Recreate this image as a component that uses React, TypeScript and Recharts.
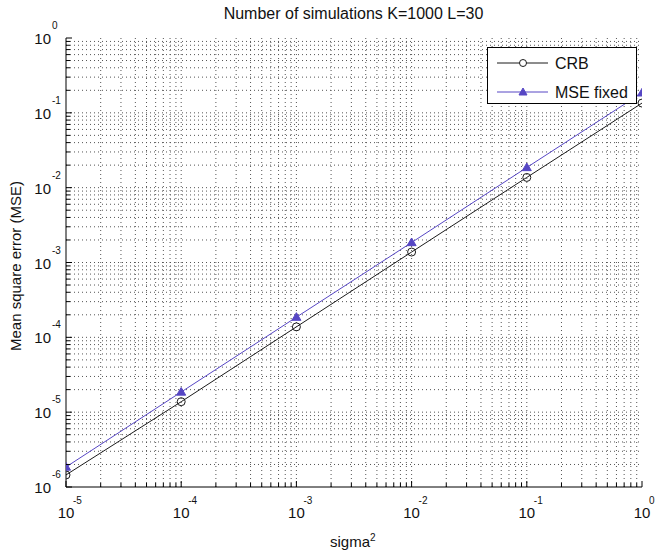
import React from 'react';
import { LineChart, Line, XAxis, YAxis, ReferenceLine, Legend } from 'recharts';

// values (log-log)
const sigma2 = [1e-5, 1e-4, 1e-3, 1e-2, 1e-1, 1];
const crb = [1.45e-6, 1.38e-5, 1.38e-4, 1.38e-3, 1.37e-2, 0.135];
const mseFixed = [1.85e-6, 1.86e-5, 1.86e-4, 1.85e-3, 1.86e-2, 0.185];

// axis decades and their exponent labels
const xMajor = [1e-5, 1e-4, 1e-3, 1e-2, 1e-1, 1];
const xExp = ['-5', '-4', '-3', '-2', '-1', '0'];
const yMajor = [1e-6, 1e-5, 1e-4, 1e-3, 1e-2, 1e-1, 1];
const yExp = ['-6', '-5', '-4', '-3', '-2', '-1', '0'];
const minorSteps = [2, 3, 4, 5, 6, 7, 8, 9];

const withMinors = (majors: number[]) => {
  const out: number[] = [];
  majors.forEach((m, i) => {
    out.push(m);
    if (i < majors.length - 1) minorSteps.forEach((k) => out.push(+(k * m).toPrecision(3)));
  });
  return out;
};

const xTicks = withMinors(xMajor);
const yTicks = withMinors(yMajor);

const data = sigma2.map((s, i) => ({ s, crb: crb[i], mse: mseFixed[i] }));

const FONT = '"Liberation Sans", Arial, sans-serif';
const BLUE = '#5646c4';
const INK = '#1b1b1b';

const majorIndex = (list: number[], v: number) => list.findIndex((m) => Math.abs(m - v) / m < 1e-6);

const BottomTick = (props: any) => {
  const { x, y, payload } = props;
  const i = majorIndex(xMajor, payload.value);
  const len = i >= 0 ? 6 : 4;
  return (
    <g>
      <line x1={x} x2={x} y1={y} y2={y - len} stroke="#000" />
      {i >= 0 && (
        <g fontFamily={FONT} fill="#111">
          <text x={x} y={y + 31} textAnchor="middle" fontSize={15}>10</text>
          <text x={x + 7} y={y + 17} fontSize={10}>{xExp[i]}</text>
        </g>
      )}
    </g>
  );
};

const TopTick = (props: any) => {
  const { x, y, payload } = props;
  const len = majorIndex(xMajor, payload.value) >= 0 ? 6 : 4;
  return <line x1={x} x2={x} y1={y} y2={y + len} stroke="#000" />;
};

const LeftTick = (props: any) => {
  const { x, y, payload } = props;
  const i = majorIndex(yMajor, payload.value);
  const len = i >= 0 ? 6 : 4;
  return (
    <g>
      <line x1={x} x2={x + len} y1={y} y2={y} stroke="#000" />
      {i >= 0 && (
        <g fontFamily={FONT} fill="#111">
          <text x={x - 15} y={y + 6} textAnchor="end" fontSize={15}>10</text>
          <text x={x - 14} y={y - 9} fontSize={10}>{yExp[i]}</text>
        </g>
      )}
    </g>
  );
};

const RightTick = (props: any) => {
  const { x, y, payload } = props;
  const len = majorIndex(yMajor, payload.value) >= 0 ? 6 : 4;
  return <line x1={x} x2={x - len} y1={y} y2={y} stroke="#000" />;
};

const CircleDot = (props: any) => {
  const { cx, cy, index } = props;
  return <circle key={`c${index}`} cx={cx} cy={cy} r={4} fill="none" stroke={INK} strokeWidth={1} />;
};

const TriangleDot = (props: any) => {
  const { cx, cy, index } = props;
  const r = 4.5;
  return (
    <polygon
      key={`t${index}`}
      points={`${cx},${cy - r} ${cx - r},${cy + r * 0.7} ${cx + r},${cy + r * 0.7}`}
      fill={BLUE}
      stroke={BLUE}
      strokeWidth={1}
    />
  );
};

const LegendBox = () => (
  <div
    style={{
      width: 150,
      height: 57,
      boxSizing: 'border-box',
      border: '1px solid #000',
      background: '#fff',
      fontFamily: FONT,
      fontSize: 16,
      color: '#111',
    }}
  >
    <svg width={148} height={55} style={{ display: 'block' }}>
      <line x1={9} x2={60} y1={15} y2={15} stroke={INK} />
      <circle cx={35} cy={15} r={3.5} fill="#fff" stroke={INK} />
      <text x={67} y={21} fontFamily={FONT} fontSize={16} fill="#111">CRB</text>
      <line x1={9} x2={60} y1={44} y2={44} stroke={BLUE} />
      <polygon points="35,40 31,47 39,47" fill={BLUE} stroke={BLUE} />
      <text x={67} y={50} fontFamily={FONT} fontSize={16} fill="#111">MSE fixed</text>
    </svg>
  </div>
);

const gridStroke = { stroke: '#555', strokeDasharray: '1 3', strokeWidth: 1 };

export default function App() {
  return (
    <div style={{ position: 'absolute', left: 0, top: 0, width: 655, height: 553, background: '#fff', fontFamily: FONT }}>
      <div style={{ position: 'absolute', left: 0, width: 655, top: 5, textAlign: 'center', fontSize: 16, color: '#111', paddingLeft: 52, boxSizing: 'border-box' }}>
        Number of simulations K=1000 L=30
      </div>
      <div
        style={{
          position: 'absolute',
          left: 15,
          top: 266,
          transform: 'translate(-50%, -50%) rotate(-90deg)',
          whiteSpace: 'nowrap',
          fontSize: 15,
          color: '#111',
        }}
      >
        Mean square error (MSE)
      </div>
      <div style={{ position: 'absolute', left: 330, top: 532, fontSize: 15, color: '#111' }}>
        sigma<sup style={{ fontSize: 10 }}>2</sup>
      </div>
      <LineChart width={655} height={553} data={data} margin={{ top: 38, right: 13, bottom: 0, left: 0 }}>
        <XAxis
          xAxisId="b"
          dataKey="s"
          type="number"
          scale="log"
          domain={[1e-5, 1]}
          ticks={xTicks}
          interval={0}
          height={66}
          tickSize={0}
          tickMargin={0}
          tickLine={false}
          tick={<BottomTick />}
          axisLine={{ stroke: '#000' }}
          allowDataOverflow
        />
        <XAxis
          xAxisId="t"
          orientation="top"
          type="number"
          scale="log"
          domain={[1e-5, 1]}
          ticks={xTicks}
          interval={0}
          height={0}
          tickSize={0}
          tickMargin={0}
          tickLine={false}
          tick={<TopTick />}
          axisLine={{ stroke: '#000' }}
          allowDataOverflow
        />
        <YAxis
          yAxisId="l"
          type="number"
          scale="log"
          domain={[1e-6, 1]}
          ticks={yTicks}
          interval={0}
          width={66}
          tickSize={0}
          tickMargin={0}
          tickLine={false}
          tick={<LeftTick />}
          axisLine={{ stroke: '#000' }}
          allowDataOverflow
        />
        <YAxis
          yAxisId="r"
          orientation="right"
          type="number"
          scale="log"
          domain={[1e-6, 1]}
          ticks={yTicks}
          interval={0}
          width={0}
          tickSize={0}
          tickMargin={0}
          tickLine={false}
          tick={<RightTick />}
          axisLine={{ stroke: '#000' }}
          allowDataOverflow
        />
        {xTicks.slice(1, -1).map((v) => (
          <ReferenceLine key={`gx${v}`} x={v} xAxisId="b" yAxisId="l" {...gridStroke} />
        ))}
        {yTicks.slice(1, -1).map((v) => (
          <ReferenceLine key={`gy${v}`} y={v} xAxisId="b" yAxisId="l" {...gridStroke} />
        ))}
        <Line
          xAxisId="b"
          yAxisId="l"
          dataKey="crb"
          name="CRB"
          type="linear"
          stroke={INK}
          strokeWidth={1}
          dot={CircleDot}
          activeDot={false}
          isAnimationActive={false}
        />
        <Line
          xAxisId="b"
          yAxisId="l"
          dataKey="mse"
          name="MSE fixed"
          type="linear"
          stroke={BLUE}
          strokeWidth={1}
          dot={TriangleDot}
          activeDot={false}
          isAnimationActive={false}
        />
        <Legend
          layout="vertical"
          align="center"
          verticalAlign="middle"
          content={<LegendBox />}
          wrapperStyle={{ top: 47, left: 487, width: 150, height: 57 }}
        />
      </LineChart>
    </div>
  );
}
